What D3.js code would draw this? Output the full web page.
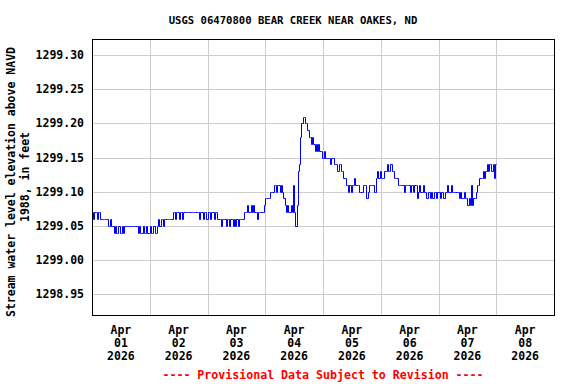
<!DOCTYPE html>
<html><head><meta charset="utf-8">
<script src="https://cdn.jsdelivr.net/npm/d3@7"></script>
<style>
html,body{margin:0;padding:0;background:#fff;}
svg{display:block;}
text{font-family:"DejaVu Sans Mono","Liberation Mono",monospace;font-weight:bold;}
</style></head>
<body>
<svg id="chart" width="576" height="384"></svg>
<script>
// Gage height, hundredths of a foot above 1299.00, every 30 minutes from Apr 01 2026 00:00
const baseElevation = 1299.00;
const startTime = "2026-04-01T00:00:00Z";
const stepMinutes = 30;
const day1 = [7,6,7,7,6,7,7,6,6,6, 6,6,6, 5,5,6,5,5, 4,5,4,4,5,4,4,5,4,5, 5,5,5,5,5,5,5,5,5,5, 4,5,4,4,5,4,4,5,4,4];
const day2 = [5,4,4,5,4,4,5, 6,5,6,6,5,6, 6,6,6,6,6,6,7, 7,6,7,7,6,7,7,6,7,7, 7,7,7,7,7,7,7,7,7,7,7, 6,7,7,6,7,7,6];
const day3 = [7,7,6,7,7,6,7,7,6, 6,6,5,6,6,6,5,6,6,5,6,6,5,6, 5,6,5,6,6,6,6, 7,7,7,8,7,7,8,7,8,7,7,6,7,7,7,7,7, 8];
const day4 = [9,9,9, 9,10,10, 10,11,11,10,11,11,10,11, 10,9,8, 7,8,7,7,8,7, 11,7,5,8, 13,14,18,20,21,21, 20,20,19,18,18,17,18,17,16,17,16,17,16,16,15];
const day5 = [15,16,15,15, 15,15,14,15,15,14,14, 14,13,14,14,13,13, 12,12,11, 11,10,11,10, 11,11,12,11, 11,11,10, 10,10,11,11, 11,9,10,11, 11,11,11,10,10, 12,13,12,13];
const day6 = [12,12,12, 13,13,14,13, 13,14, 13,13,12,12, 12,11,11,11, 11,11,10,11,11,11,11,10, 11,11,10,11,11,9, 10,11,10,10,11,10, 10,9,10,10,9, 10,9,10,10,9,10];
const day7 = [10,9,10,10,9,10, 10,11,10,10,11, 10,10,10,10,10, 10,9,10,9,9,10,9, 9,8,9,8, 11, 8,9,9, 10,11,11, 12,12,12, 13,12,13, 14,13,14, 14,13,14, 12,14];
const lastValue = [14];

const yTicks = [1298.95, 1299.00, 1299.05, 1299.10, 1299.15, 1299.20, 1299.25, 1299.30];
const yTickLabels = ["1298.95","1299.00","1299.05","1299.10","1299.15","1299.20","1299.25","1299.30"];
const xLabelDays = ["2026-04-01","2026-04-02","2026-04-03","2026-04-04","2026-04-05","2026-04-06","2026-04-07","2026-04-08"];
const xLabelMonth = ["Apr","Apr","Apr","Apr","Apr","Apr","Apr","Apr"];
const xLabelDay = ["01","02","03","04","05","06","07","08"];
const xLabelYear = ["2026","2026","2026","2026","2026","2026","2026","2026"];
const gridDays = ["2026-04-02","2026-04-03","2026-04-04","2026-04-05","2026-04-06","2026-04-07","2026-04-08"];

const title = "USGS 06470800 BEAR CREEK NEAR OAKES, ND";
const yTitle1 = "Stream water level elevation above NAVD";
const yTitle2 = "1988, in feet";
const footer = "---- Provisional Data Subject to Revision ----";

const values = [].concat(day1, day2, day3, day4, day5, day6, day7, lastValue);
const t0 = new Date(startTime).getTime();
const data = values.map((v, i) => ({ t: new Date(t0 + i * stepMinutes * 60000), y: baseElevation + v / 100 }));

const L = 92, R = 554, T = 40, B = 316;
const x = d3.scaleUtc().domain([new Date("2026-04-01T00:00:00Z"), new Date("2026-04-09T00:00:00Z")]).range([L, R]);
const y = d3.scaleLinear().domain([1298.918, 1299.322]).range([B, T]);

const svg = d3.select("#chart");

// grid
svg.append("g").selectAll("line").data(yTicks).join("line")
  .attr("x1", L).attr("x2", R)
  .attr("y1", d => Math.round(y(d)) + 0.5).attr("y2", d => Math.round(y(d)) + 0.5)
  .attr("stroke", "#cccccc").attr("stroke-width", 1).attr("shape-rendering", "crispEdges");
svg.append("g").selectAll("line").data(gridDays).join("line")
  .attr("x1", d => Math.round(x(new Date(d + "T00:00:00Z"))) + 0.5)
  .attr("x2", d => Math.round(x(new Date(d + "T00:00:00Z"))) + 0.5)
  .attr("y1", T).attr("y2", B)
  .attr("stroke", "#cccccc").attr("stroke-width", 1).attr("shape-rendering", "crispEdges");

// data line
const line = d3.line().x(d => Math.round(x(d.t)) + 0.5).y(d => Math.round(y(d.y)) + 0.5).curve(d3.curveStepAfter);
svg.append("path").datum(data).attr("d", line)
  .attr("fill", "none").attr("stroke", "#0000ff").attr("stroke-width", 1);

// frame
svg.append("rect").attr("x", L + 0.5).attr("y", T - 0.5).attr("width", R - L).attr("height", B - T)
  .attr("fill", "none").attr("stroke", "#000").attr("stroke-width", 1.2).attr("shape-rendering", "crispEdges");

// y tick labels
svg.append("g").selectAll("text").data(yTicks).join("text")
  .attr("x", 84).attr("y", d => y(d) + 4)
  .attr("text-anchor", "end").attr("font-size", "11.5px").attr("fill", "#000")
  .text((d, i) => yTickLabels[i]);

// x tick labels
const xl = svg.append("g").selectAll("g").data(xLabelDays).join("g")
  .attr("transform", d => `translate(${x(new Date(d + "T12:00:00Z"))},0)`);
xl.append("text").attr("y", 334).attr("text-anchor", "middle").attr("font-size", "11.5px").text((d, i) => xLabelMonth[i]);
xl.append("text").attr("y", 347).attr("text-anchor", "middle").attr("font-size", "11.5px").text((d, i) => xLabelDay[i]);
xl.append("text").attr("y", 360).attr("text-anchor", "middle").attr("font-size", "11.5px").text((d, i) => xLabelYear[i]);

// title
svg.append("text").attr("x", 293).attr("y", 24).attr("text-anchor", "middle")
  .attr("font-size", "10.6px").text(title);

// y axis title
svg.append("text").attr("transform", "translate(15,182) rotate(-90)").attr("text-anchor", "middle")
  .attr("font-size", "11.5px").text(yTitle1);
svg.append("text").attr("transform", "translate(29,177) rotate(-90)").attr("text-anchor", "middle")
  .attr("font-size", "11.5px").text(yTitle2);

// footer
svg.append("text").attr("x", 323).attr("y", 379).attr("text-anchor", "middle")
  .attr("font-size", "11.6px").attr("fill", "#ff0000").text(footer);
</script>
</body></html>
